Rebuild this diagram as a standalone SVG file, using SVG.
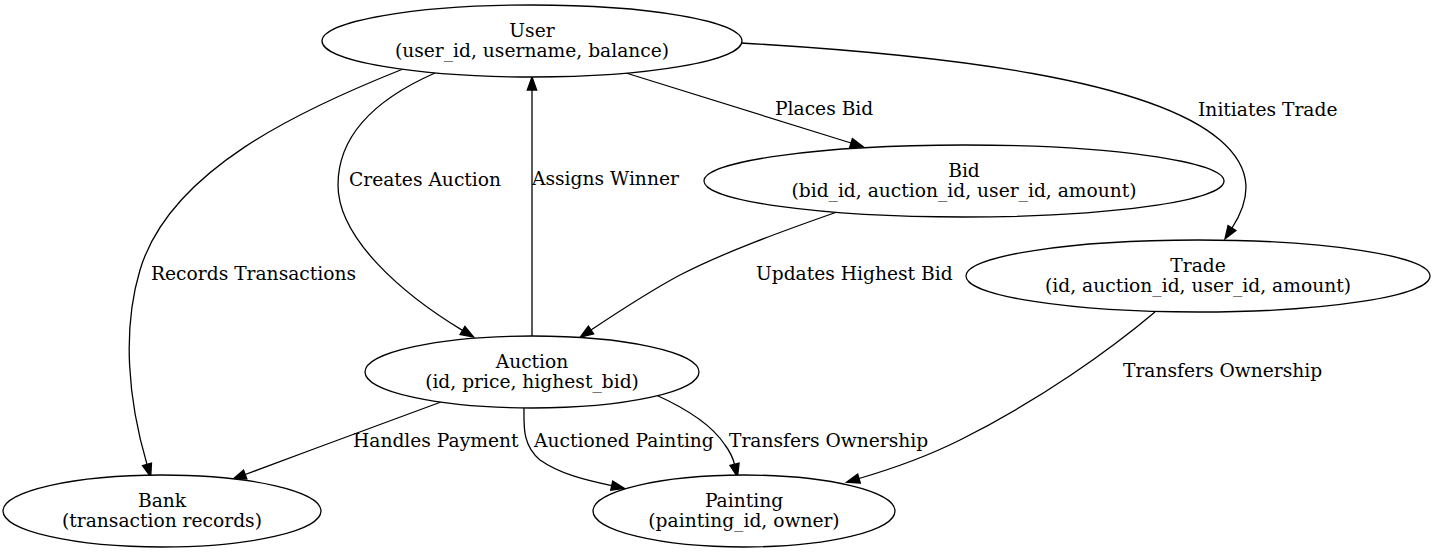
<svg xmlns="http://www.w3.org/2000/svg" width="1436" height="553" viewBox="0 0 1436 553">
<style>
.n ellipse{fill:#fff;stroke:#000;stroke-width:1.3}
text{font-family:"DejaVu Serif","Liberation Serif",serif;font-size:18.67px;fill:#000}
.n text{text-anchor:middle}
.e path{fill:none;stroke:#000;stroke-width:1.3;marker-end:url(#ah)}
</style>
<defs>
<marker id="ah" markerUnits="userSpaceOnUse" markerWidth="14" markerHeight="10" refX="0" refY="4.7" orient="auto" overflow="visible">
<path d="M0,0 L13,4.7 L0,9.4 Z" fill="#000" stroke="#000" stroke-width="1.3"/>
</marker>
</defs>
<rect width="1436" height="553" fill="#fff"/>
<g id="edges" class="e">
<path d="M626,73 L851,143"/>
<path d="M435,73 C385,95 338,130 338,185 C338,238 402,294 462.5,330.4"/>
<path d="M403,69 C300,110 170,170 140,270 C122,330 128,400 147,464.4"/>
<path d="M532,336 L532,90"/>
<path d="M741,43 C950,55 1150,80 1220,140 C1255,170 1250,200 1232,228"/>
<path d="M837,212 C780,232 725,252 680,275 C650,291 615,314 591,330"/>
<path d="M1155,312 C1110,350 1040,400 960,440 C930,455 895,468 859,478.5"/>
<path d="M441,402 C380,425 310,450 245.2,474.5"/>
<path d="M524,408 C524,425 522,445 540,460 C560,474 585,480 611.7,485.7"/>
<path d="M656,395 C685,408 712,425 725,445 C731,453 733,458 734.5,464.3"/>
<text x="775" y="115">Places Bid</text>
<text x="1198" y="116">Initiates Trade</text>
<text x="349" y="186">Creates Auction</text>
<text x="532" y="185">Assigns Winner</text>
<text x="151" y="280">Records Transactions</text>
<text x="756" y="280">Updates Highest Bid</text>
<text x="1123" y="377">Transfers Ownership</text>
<text x="353" y="447">Handles Payment</text>
<text x="534" y="447">Auctioned Painting</text>
<text x="729" y="447">Transfers Ownership</text>
</g>
<g id="user" class="n"><ellipse cx="532" cy="41" rx="210" ry="36"/><text x="532" y="36.5">User</text><text x="532" y="57">(user_id, username, balance)</text></g>
<g id="bid" class="n"><ellipse cx="964" cy="181" rx="260" ry="36"/><text x="964" y="176.5">Bid</text><text x="964" y="197">(bid_id, auction_id, user_id, amount)</text></g>
<g id="trade" class="n"><ellipse cx="1198" cy="276" rx="232" ry="36"/><text x="1198" y="271.5">Trade</text><text x="1198" y="292">(id, auction_id, user_id, amount)</text></g>
<g id="auction" class="n"><ellipse cx="532" cy="372" rx="167" ry="36"/><text x="532" y="367.5">Auction</text><text x="532" y="388">(id, price, highest_bid)</text></g>
<g id="bank" class="n"><ellipse cx="162" cy="511" rx="159" ry="36"/><text x="162" y="506.5">Bank</text><text x="162" y="527">(transaction records)</text></g>
<g id="painting" class="n"><ellipse cx="744" cy="511" rx="151" ry="36"/><text x="744" y="506.5">Painting</text><text x="744" y="527">(painting_id, owner)</text></g>
</svg>
